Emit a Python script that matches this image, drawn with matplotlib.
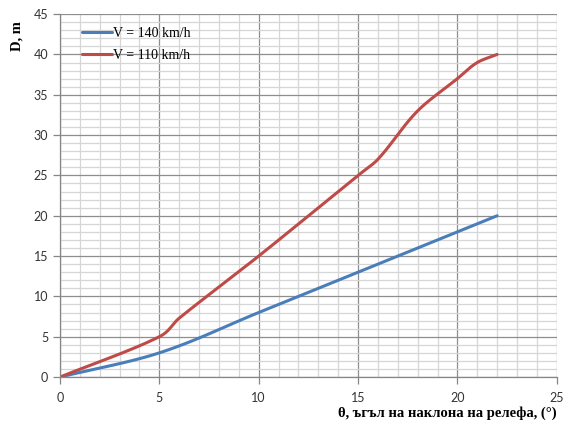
import numpy as np
import matplotlib
matplotlib.use("Agg")
import matplotlib.pyplot as plt
from matplotlib.ticker import MultipleLocator

# Data
x_140 = [0, 5, 10, 15, 20, 22]
y_140 = [0, 3, 8, 13, 18, 20]
x_110 = [0, 5, 6, 10, 15, 16, 18, 20, 21, 22]
y_110 = [0, 5, 7.3, 15, 25, 27, 33, 37, 39, 40]
labels = ["V = 140 km/h", "V = 110 km/h"]
x_label = "θ, ъгъл на наклона на релефа, (°)"
y_label = "D, m"


def smooth(xs, ys, n=20):
    # Bezier rendering of a smoothed line (like Excel "smoothed line")
    xs = np.asarray(xs, float); ys = np.asarray(ys, float)
    P = np.column_stack([xs, ys])
    P = np.vstack([P[0] - (P[1] - P[0]), P, P[-1] + (P[-1] - P[-2])])
    out = []
    for i in range(1, len(P) - 2):
        p0, p1, p2, p3 = P[i - 1], P[i], P[i + 1], P[i + 2]
        d = np.linalg.norm(p2 - p1)
        t1 = (p2 - p0); t1 = t1 / np.linalg.norm(t1)
        t2 = (p3 - p1); t2 = t2 / np.linalg.norm(t2)
        c1 = p1 + t1 * d / 3
        c2 = p2 - t2 * d / 3
        t = np.linspace(0, 1, n, endpoint=False)[:, None]
        pts = ((1 - t) ** 3) * p1 + 3 * ((1 - t) ** 2) * t * c1 + 3 * (1 - t) * t ** 2 * c2 + t ** 3 * p2
        out.append(pts)
    out.append(P[-2][None, :])
    out = np.vstack(out)
    return out[:, 0], out[:, 1]


fig = plt.figure(figsize=(5.71, 4.28), dpi=100)
ax = fig.add_axes([0.105, 0.119, 0.87, 0.848])

ax.set_xlim(0, 25)
ax.set_ylim(0, 45)
ax.xaxis.set_major_locator(MultipleLocator(5))
ax.yaxis.set_major_locator(MultipleLocator(5))
ax.xaxis.set_minor_locator(MultipleLocator(1))
ax.yaxis.set_minor_locator(MultipleLocator(1))
ax.grid(which="minor", color="#d6d6d6", linewidth=0.9)
ax.grid(which="major", color="#8e8e8e", linewidth=0.9)
ax.set_axisbelow(True)

for s in ["top", "right"]:
    ax.spines[s].set_visible(False)
for s in ["left", "bottom"]:
    ax.spines[s].set_color("#868686")
    ax.spines[s].set_linewidth(0.9)

ax.tick_params(which="major", length=5, color="#868686", labelsize=9,
               labelcolor="#333333", width=0.9)
ax.tick_params(which="minor", length=0)
ax.tick_params(axis="x", pad=6)
for lab in ax.get_xticklabels() + ax.get_yticklabels():
    lab.set_fontfamily("Lato")

sx, sy = smooth(x_140, y_140)
ax.plot(sx, sy, color="#4A7EBB", linewidth=2.2, label=labels[0], solid_capstyle="round")
sx, sy = smooth(x_110, y_110)
ax.plot(sx, sy, color="#BE4B48", linewidth=2.2, label=labels[1], solid_capstyle="round")

leg = ax.legend(loc="upper left", bbox_to_anchor=(0.02, 1.0), frameon=False,
                prop={"family": "Liberation Serif", "size": 10},
                handlelength=2.1, handletextpad=0.1, labelspacing=0.7)

fig.text(0.975, 0.035, x_label, ha="right", va="center",
         fontfamily="Liberation Serif", fontweight="bold", fontsize=10.5)
fig.text(0.03, 0.915, y_label, ha="center", va="center", rotation=90,
         fontfamily="Liberation Serif", fontweight="bold", fontsize=10.5)

fig.savefig("out.png", dpi=100)
